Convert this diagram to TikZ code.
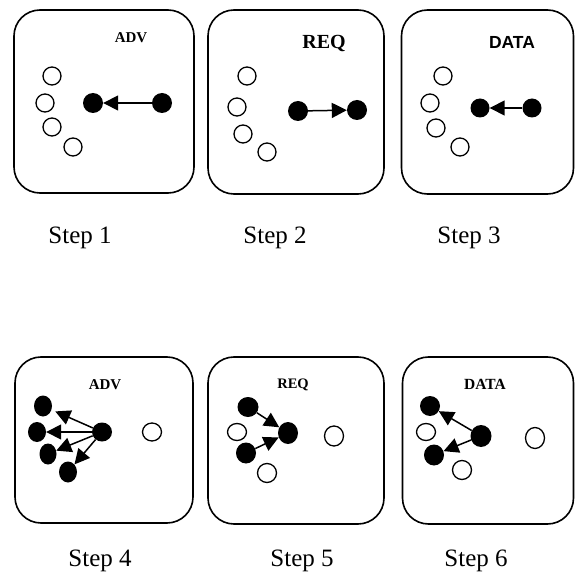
\documentclass[tikz,border=0pt]{standalone}
\usepackage{fontspec}
\setmainfont{Liberation Serif}
\newfontfamily\arialfont{Liberation Sans}
\usetikzlibrary{arrows.meta,shapes.geometric}
\tikzset{
  panel/.style={draw, line width=1.6pt, rounded corners=26pt, inner sep=0pt},
  opn/.style={draw, circle, line width=1.3pt, minimum size=18pt, inner sep=0pt},
  opne/.style={draw, ellipse, line width=1.3pt, inner sep=0pt},
  fil/.style={fill, circle, minimum size=20pt, inner sep=0pt},
  fell/.style={fill, ellipse, inner sep=0pt},
  arr/.style={line width=1.5pt, -{Triangle[length=15pt,width=15pt]}},
  steplab/.style={anchor=base, font=\fontsize{25}{30}\selectfont, inner sep=0pt},
  msglab/.style={anchor=base, inner sep=0pt},
}
\begin{document}
\begin{tikzpicture}[x=1pt,y=-1pt]
\useasboundingbox (0,0) rectangle (576,572);
% panels
\node[panel, minimum width=180pt, minimum height=183pt] (b1) at (104,101.5) {};
\node[panel, minimum width=176pt, minimum height=184pt] (b2) at (296,102) {};
\node[panel, minimum width=172pt, minimum height=184pt] (b3) at (487.5,102) {};
\node[panel, minimum width=178pt, minimum height=166pt] (b4) at (104,440) {};
\node[panel, minimum width=176pt, minimum height=167pt] (b5) at (296,440.5) {};
\node[panel, minimum width=171pt, minimum height=167pt] (b6) at (488,440.5) {};
% labels
\node[msglab, font=\bfseries\fontsize{15}{18}\selectfont] (t1) at (131,43) {ADV};
\node[msglab, font=\bfseries\fontsize{20}{24}\selectfont] (t2) at (324,49) {REQ};
\node[msglab, font=\arialfont\bfseries\fontsize{17.5}{21}\selectfont] (t3) at (512,49) {DATA};
\node[msglab, font=\bfseries\fontsize{15}{18}\selectfont] (t4) at (105,389) {ADV};
\node[msglab, font=\bfseries\fontsize{14.5}{17}\selectfont] (t5) at (293,388) {REQ};
\node[msglab, font=\bfseries\fontsize{15.5}{18}\selectfont] (t6) at (485,389) {DATA};
\node[steplab] (s1) at (80,244) {Step 1};
\node[steplab] (s2) at (275,244) {Step 2};
\node[steplab] (s3) at (469,244) {Step 3};
\node[steplab] (s4) at (100,566) {Step 4};
\node[steplab] (s5) at (302,566) {Step 5};
\node[steplab] (s6) at (476,566) {Step 6};
% step 1
\node[opn] (o11) at (52,76) {};
\node[opn] (o12) at (45,103) {};
\node[opn] (o13) at (52,127) {};
\node[opn] (o14) at (73,147) {};
\node[fil] (f1a) at (93,103) {};
\node[fil] (f1b) at (162,103) {};
\draw[arr] (f1b) -- (f1a);
% step 2
\node[opn] (o21) at (247,76) {};
\node[opn] (o22) at (237,107) {};
\node[opn] (o23) at (243,134) {};
\node[opn] (o24) at (267,152) {};
\node[fil] (f2a) at (298,111) {};
\node[fil] (f2b) at (357,110) {};
\draw[arr] (f2a) -- (f2b);
% step 3
\node[opn] (o31) at (443,76) {};
\node[opn] (o32) at (430,103) {};
\node[opn] (o33) at (436,128) {};
\node[opn] (o34) at (460,147) {};
\node[fil, minimum size=19pt] (f3a) at (480,108) {};
\node[fil, minimum size=19pt] (f3b) at (532,108) {};
\draw[arr] (f3b) -- (f3a);
% step 4
\node[fell, minimum width=18pt, minimum height=21pt] (f41) at (43,406) {};
\node[fell, minimum width=18pt, minimum height=20pt] (f42) at (37,432) {};
\node[fell, minimum width=17pt, minimum height=21pt] (f43) at (48,454) {};
\node[fell, minimum width=18pt, minimum height=21pt] (f44) at (68,472) {};
\node[fell, minimum width=20pt, minimum height=19pt] (f4c) at (102,432) {};
\node[opne, minimum width=19pt, minimum height=18pt] (o41) at (152,432) {};
\draw[arr, shorten >=4pt] (f4c) -- (f41);
\draw[arr] (f4c) -- (f42);
\draw[arr] (f4c) -- (f43);
\draw[arr] (f4c) -- (f44);
% step 5
\node[fell, minimum width=21pt, minimum height=20pt] (f51) at (248,407) {};
\node[fell, minimum width=20pt, minimum height=21pt] (f52) at (246,453) {};
\node[fell, minimum width=20pt, minimum height=22pt] (f5c) at (288,433) {};
\node[opne, minimum width=19pt, minimum height=17pt] (o51) at (237,432) {};
\node[opne, minimum width=19pt, minimum height=19pt] (o52) at (267,473) {};
\node[opne, minimum width=19pt, minimum height=20pt] (o53) at (334,436) {};
\draw[arr] (f51) -- (f5c);
\draw[arr] (f52) -- (f5c);
% step 6
\node[fell, minimum width=20pt, minimum height=20pt] (f61) at (430,406) {};
\node[fell, minimum width=20pt, minimum height=21pt] (f62) at (434,455) {};
\node[fell, minimum width=21pt, minimum height=22pt] (f6c) at (481,436) {};
\node[opne, minimum width=19pt, minimum height=17pt] (o61) at (426,432) {};
\node[opne, minimum width=19pt, minimum height=19pt] (o62) at (462,470) {};
\node[opne, minimum width=19pt, minimum height=21pt] (o63) at (535,438) {};
\draw[arr] (f6c) -- (f61);
\draw[arr] (f6c) -- (f62);
\end{tikzpicture}
\end{document}
